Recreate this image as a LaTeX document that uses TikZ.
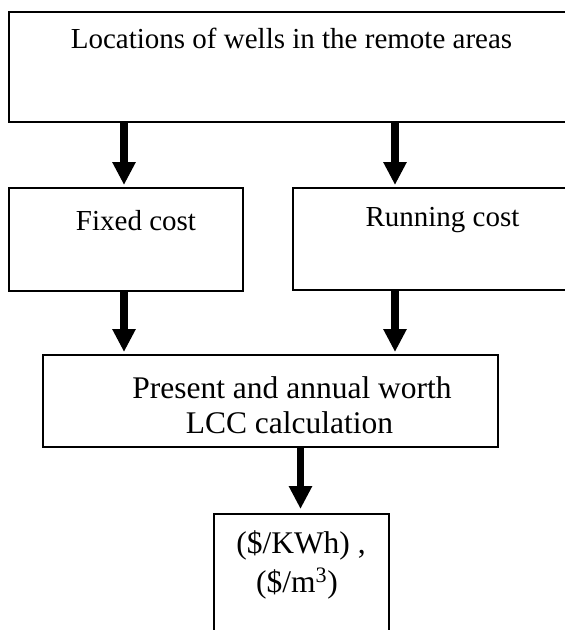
\documentclass[tikz,border=0pt]{standalone}
\usepackage{fontspec}
\setmainfont{Liberation Serif}
\usetikzlibrary{arrows.meta}
\begin{document}
\begin{tikzpicture}[x=1pt,y=-1pt,
  box/.style={draw, line width=1.3pt, inner sep=0pt, outer sep=0pt, anchor=north west},
  lbl/.style={inner sep=0pt, anchor=base, font=\fontsize{29pt}{34pt}\selectfont},
  lblbig/.style={inner sep=0pt, anchor=base, font=\fontsize{31.5pt}{36pt}\selectfont},
  bigarrow/.style={line width=7.5pt, -{Triangle[width=22pt,length=23pt]}, shorten >=3pt}]
\useasboundingbox (0,0) rectangle (565,630);
\fill[white] (0,0) rectangle (565,630);
% boxes
\node[box, minimum width=565pt, minimum height=110pt] (top) at (9,12) {};
\node[box, minimum width=234pt, minimum height=103pt] (fixed) at (9,188) {};
\node[box, minimum width=299pt, minimum height=102pt] (running) at (293,188) {};
\node[box, minimum width=455pt, minimum height=92pt] (present) at (43,355) {};
\node[box, minimum width=175pt, minimum height=150pt] (result) at (214,514) {};
% texts
\node[lbl] (ttop) at (291.5,48) {Locations of wells in the remote areas};
\node[lbl] (tfixed) at (136,230) {Fixed cost};
\node[lbl] (trunning) at (442.5,226) {Running cost};
\node[lblbig] (tpres1) at (292,398) {Present and annual worth};
\node[lblbig] (tpres2) at (289.5,433) {LCC calculation};
\node[lblbig] (tres1) at (301,553) {(\$/KWh) ,};
\node[lblbig] (tres2) at (297,592) {(\$/m\textsuperscript{3})};
% arrow columns
\coordinate (xl) at (124,0);
\coordinate (xr) at (395,0);
\coordinate (xm) at (300.5,0);
% arrows
\draw[bigarrow] (top.south -| xl) -- (fixed.north -| xl);
\draw[bigarrow] (top.south -| xr) -- (running.north -| xr);
\draw[bigarrow] (fixed.south -| xl) -- (present.north -| xl);
\draw[bigarrow] (running.south -| xr) -- (present.north -| xr);
\draw[bigarrow, shorten >=5pt] (present.south -| xm) -- (result.north -| xm);
\end{tikzpicture}
\end{document}
